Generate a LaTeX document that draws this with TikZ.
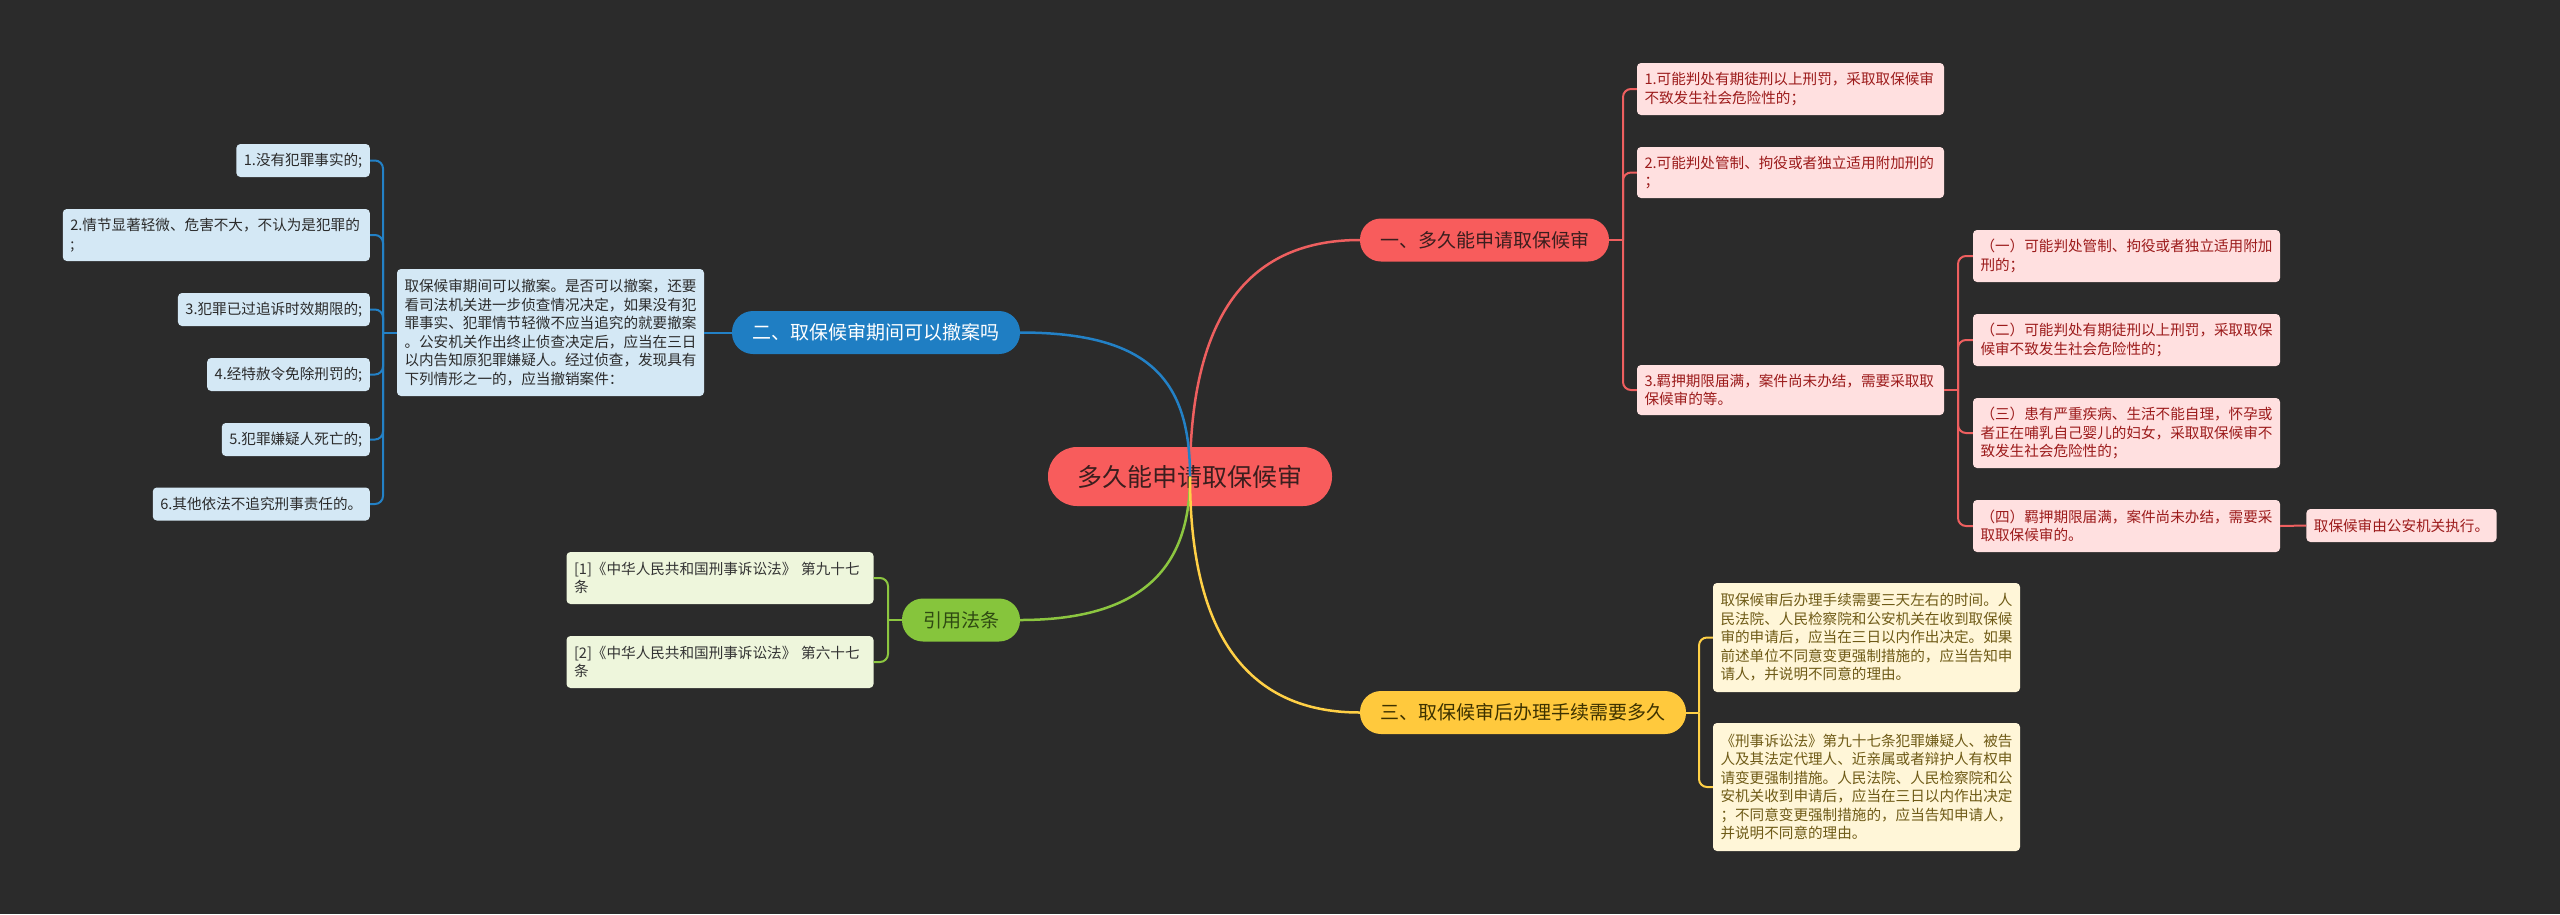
\documentclass[tikz,border=0pt]{standalone}
\usepackage{fontspec}
\setmainfont{Noto Sans CJK SC}
\definecolor{bgc}{HTML}{2B2B2B}
\definecolor{cRed}{HTML}{F85C5C}
\definecolor{cRootTxt}{HTML}{3B1E1E}
\definecolor{rFill}{HTML}{FFE0E0}
\definecolor{rTxt}{HTML}{9C1B1B}
\definecolor{rLine}{HTML}{EE5F5F}
\definecolor{cBlue}{HTML}{1F7EC3}
\definecolor{bFill}{HTML}{D4E8F5}
\definecolor{bTxt}{HTML}{2B2B2B}
\definecolor{bLine}{HTML}{2381C6}
\definecolor{cGreen}{HTML}{86C53C}
\definecolor{gBrTxt}{HTML}{2F4A12}
\definecolor{gFill}{HTML}{EEF6DC}
\definecolor{gTxt}{HTML}{333333}
\definecolor{gLine}{HTML}{8CC640}
\definecolor{cYellow}{HTML}{FFC93D}
\definecolor{yBrTxt}{HTML}{3D3200}
\definecolor{yFill}{HTML}{FFF6D8}
\definecolor{yTxt}{HTML}{6F5B17}
\definecolor{yLine}{HTML}{FFD046}
\tikzset{
  rootn/.style={fill=cRed, text=cRootTxt, rounded corners=29pt, minimum width=284pt, minimum height=59pt, inner sep=0pt, font=\fontsize{25}{30}\selectfont},
  branch/.style={rounded corners=21pt, minimum height=43pt, inner sep=0pt, font=\fontsize{19}{23}\selectfont},
  box/.style={rounded corners=4pt, inner xsep=7.5pt, inner ysep=3pt, align=left, font=\fontsize{14.6}{18.5}\selectfont},
  wbox/.style={box, text width=292pt},
  sbox/.style={box, minimum height=33pt},
  redc/.style={fill=rFill, text=rTxt},
  bluec/.style={fill=bFill, text=bTxt},
  greenc/.style={fill=gFill, text=gTxt},
  yellowc/.style={fill=yFill, text=yTxt},
  mainline/.style={line width=2.5pt},
  twig/.style={line width=2pt, rounded corners=8pt}
}
\begin{document}
\begin{tikzpicture}[x=1pt,y=-1pt]
\fill[bgc] (0,0) rectangle (2560,914);
\useasboundingbox (0,0) rectangle (2560,914);

% root and main branches
\node[rootn] (root) at (1190,476.5) {多久能申请取保候审};
\node[branch, fill=cRed, text=cRootTxt, minimum width=249pt] (b1) at (1484.5,240) {一、多久能申请取保候审};
\node[branch, fill=cBlue, text=white, minimum width=288pt] (b2) at (876,332.5) {二、取保候审期间可以撤案吗};
\node[branch, fill=cGreen, text=gBrTxt, minimum width=118pt] (b3) at (961,620) {引用法条};
\node[branch, fill=cYellow, text=yBrTxt, minimum width=326pt] (b4) at (1523,712.5) {三、取保候审后办理手续需要多久};

% red children
\node[wbox, redc, minimum height=52pt] (r1) at (1790.5,89) {1.可能判处有期徒刑以上刑罚，采取取保候审\\不致发生社会危险性的；};
\node[wbox, redc, minimum height=51pt] (r2) at (1790.5,172.5) {2.可能判处管制、拘役或者独立适用附加刑的\\；};
\node[wbox, redc, minimum height=50pt] (r3) at (1790.5,390) {3.羁押期限届满，案件尚未办结，需要采取取\\保候审的等。};
\node[wbox, redc, minimum height=52pt] (s1) at (2126.5,256) {（一）可能判处管制、拘役或者独立适用附加\\刑的；};
\node[wbox, redc, minimum height=52pt] (s2) at (2126.5,340) {（二）可能判处有期徒刑以上刑罚，采取取保\\候审不致发生社会危险性的；};
\node[wbox, redc, minimum height=70pt] (s3) at (2126.5,433) {（三）患有严重疾病、生活不能自理，怀孕或\\者正在哺乳自己婴儿的妇女，采取取保候审不\\致发生社会危险性的；};
\node[wbox, redc, minimum height=52pt] (s4) at (2126.5,526) {（四）羁押期限届满，案件尚未办结，需要采\\取取保候审的。};
\node[sbox, redc, minimum width=189pt] (s5) at (2401.5,525.5) {取保候审由公安机关执行。};

% blue children
\node[wbox, bluec, minimum height=127pt] (bd) at (550.5,332.5) {取保候审期间可以撤案。是否可以撤案，还要\\看司法机关进一步侦查情况决定，如果没有犯\\罪事实、犯罪情节轻微不应当追究的就要撤案\\。公安机关作出终止侦查决定后，应当在三日\\以内告知原犯罪嫌疑人。经过侦查，发现具有\\下列情形之一的，应当撤销案件：};
\node[sbox, bluec, minimum width=133pt, anchor=east] (l1) at (370,160.5) {1.没有犯罪事实的;};
\node[wbox, bluec, minimum height=52pt, anchor=east] (l2) at (370,235) {2.情节显著轻微、危害不大，不认为是犯罪的\\;};
\node[sbox, bluec, minimum width=191pt, anchor=east] (l3) at (370,309.5) {3.犯罪已过追诉时效期限的;};
\node[sbox, bluec, minimum width=162pt, anchor=east] (l4) at (370,374.5) {4.经特赦令免除刑罚的;};
\node[sbox, bluec, minimum width=147pt, anchor=east] (l5) at (370,439.5) {5.犯罪嫌疑人死亡的;};
\node[sbox, bluec, minimum width=217pt, anchor=east] (l6) at (370,504) {6.其他依法不追究刑事责任的。};

% green children
\node[wbox, greenc, minimum height=52pt] (g1) at (720,578) {[1]《中华人民共和国刑事诉讼法》 第九十七\\条};
\node[wbox, greenc, minimum height=52pt] (g2) at (720,662) {[2]《中华人民共和国刑事诉讼法》 第六十七\\条};

% yellow children
\node[wbox, yellowc, minimum height=109pt] (y1) at (1866.5,637.5) {取保候审后办理手续需要三天左右的时间。人\\民法院、人民检察院和公安机关在收到取保候\\审的申请后，应当在三日以内作出决定。如果\\前述单位不同意变更强制措施的，应当告知申\\请人，并说明不同意的理由。};
\node[wbox, yellowc, minimum height=128pt] (y2) at (1866.5,787) {《刑事诉讼法》第九十七条犯罪嫌疑人、被告\\人及其法定代理人、近亲属或者辩护人有权申\\请变更强制措施。人民法院、人民检察院和公\\安机关收到申请后，应当在三日以内作出决定\\；不同意变更强制措施的，应当告知申请人，\\并说明不同意的理由。};

% trunk joints
\coordinate (tr) at (1623,240);
\coordinate (ts) at (1958,390);
\coordinate (tb) at (383,332.5);
\coordinate (tg) at (888,620);
\coordinate (ty) at (1699,712.5);

% main curves (drawn over root)
\draw[mainline, rLine] (root.center) .. controls +(0,-176) and +(-100,0) .. (b1.west);
\draw[mainline, bLine] (b2.east) .. controls +(130,0) and +(0,-96) .. (root.center);
\draw[mainline, gLine] (b3.east) .. controls +(130,0) and +(0,84) .. (root.center);
\draw[mainline, yLine] (root.center) .. controls +(0,174) and +(-100,0) .. (b4.west);

% red branch
\draw[twig, rLine] (b1.east) -- (tr);
\draw[twig, rLine] (tr) |- (r1.west);
\draw[twig, rLine] (tr) |- (r2.west);
\draw[twig, rLine] (tr) |- (r3.west);
\draw[twig, rLine] (r3.east) -- (ts);
\draw[twig, rLine] (ts) |- (s1.west);
\draw[twig, rLine] (ts) |- (s2.west);
\draw[twig, rLine] (ts) |- (s3.west);
\draw[twig, rLine] (ts) |- (s4.west);
\draw[twig, rLine] (s4.east) -- (s5.west);

% blue branch
\draw[twig, bLine] (b2.west) -- (bd.east);
\draw[twig, bLine] (bd.west) -- (tb);
\draw[twig, bLine] (tb) |- (l1.east);
\draw[twig, bLine] (tb) |- (l2.east);
\draw[twig, bLine] (tb) |- (l3.east);
\draw[twig, bLine] (tb) |- (l4.east);
\draw[twig, bLine] (tb) |- (l5.east);
\draw[twig, bLine] (tb) |- (l6.east);

% green branch
\draw[twig, gLine] (b3.west) -- (tg);
\draw[twig, gLine] (tg) |- (g1.east);
\draw[twig, gLine] (tg) |- (g2.east);

% yellow branch
\draw[twig, yLine] (b4.east) -- (ty);
\draw[twig, yLine] (ty) |- (y1.west);
\draw[twig, yLine] (ty) |- (y2.west);
\end{tikzpicture}
\end{document}
